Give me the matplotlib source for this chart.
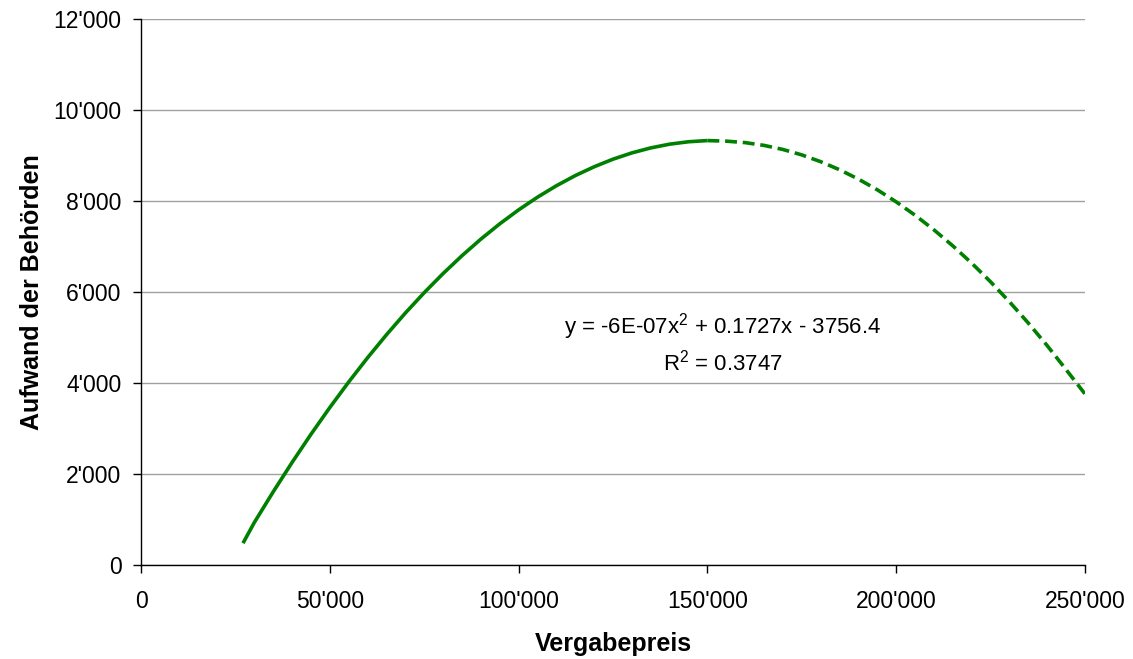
import matplotlib
matplotlib.use("Agg")
import matplotlib.pyplot as plt
from matplotlib.ticker import FuncFormatter

plt.rcParams['font.family'] = ['Liberation Sans', 'DejaVu Sans']
plt.rcParams['mathtext.fontset'] = 'custom'
plt.rcParams['mathtext.rm'] = 'Liberation Sans'

# trendline (solid part, then dashed forecast part)
preis_solid = [27000, 30000, 35000, 40000, 45000, 50000, 55000, 60000, 65000,
               70000, 75000, 80000, 85000, 90000, 95000, 100000, 105000, 110000,
               115000, 120000, 125000, 130000, 135000, 140000, 145000, 150000]
aufwand_solid = [480, 935, 1609, 2255, 2873, 3462, 4023, 4556, 5061,
                 5538, 5986, 6406, 6798, 7162, 7498, 7805, 8084, 8335,
                 8558, 8752, 8919, 9057, 9167, 9249, 9302, 9328]

preis_dash = [150000, 155000, 160000, 165000, 170000, 175000, 180000, 185000,
              190000, 195000, 200000, 205000, 210000, 215000, 220000, 225000,
              230000, 235000, 240000, 245000, 250000]
aufwand_dash = [9328, 9315, 9283, 9222, 9132, 9013, 8864, 8687,
                8481, 8246, 7981, 7688, 7366, 7014, 6634, 6224,
                5785, 5317, 4821, 4295, 3760]

fig = plt.figure(figsize=(11.33, 6.59), dpi=100)
ax = fig.add_axes([0.1245, 0.1426, 0.8331, 0.8286])

green = '#008000'
ax.plot(preis_solid, aufwand_solid, color=green, lw=2.6, solid_capstyle='butt')
ax.plot(preis_dash, aufwand_dash, color=green, lw=2.6, ls=(0, (3.3, 1.6)))

ax.set_xlim(0, 250000)
ax.set_ylim(0, 12000)
ax.set_xticks(range(0, 250001, 50000))
ax.set_yticks(range(0, 12001, 2000))

fmt = FuncFormatter(lambda v, p: f"{int(v):,}".replace(",", "'"))
ax.xaxis.set_major_formatter(fmt)
ax.yaxis.set_major_formatter(fmt)

ax.grid(axis='y', color='#a0a0a0', lw=1)
ax.set_axisbelow(True)
for s in ['top', 'right']:
    ax.spines[s].set_visible(False)
ax.spines['left'].set_linewidth(1)
ax.spines['bottom'].set_linewidth(1)
ax.tick_params(direction='out', length=6, width=1, labelsize=16.5)
ax.tick_params(axis='x', pad=12)
ax.tick_params(axis='y', pad=8)

ax.set_xlabel('Vergabepreis', fontsize=18, fontweight='bold', labelpad=14)
ax.set_ylabel('Aufwand der Behörden', fontsize=18, fontweight='bold', labelpad=7)

ax.text(154000, 4880, "y = -6E-07x$^2$ + 0.1727x - 3756.4\nR$^2$ = 0.3747",
        ha='center', va='center', fontsize=16, linespacing=1.35)

fig.savefig('out.png', dpi=100)
